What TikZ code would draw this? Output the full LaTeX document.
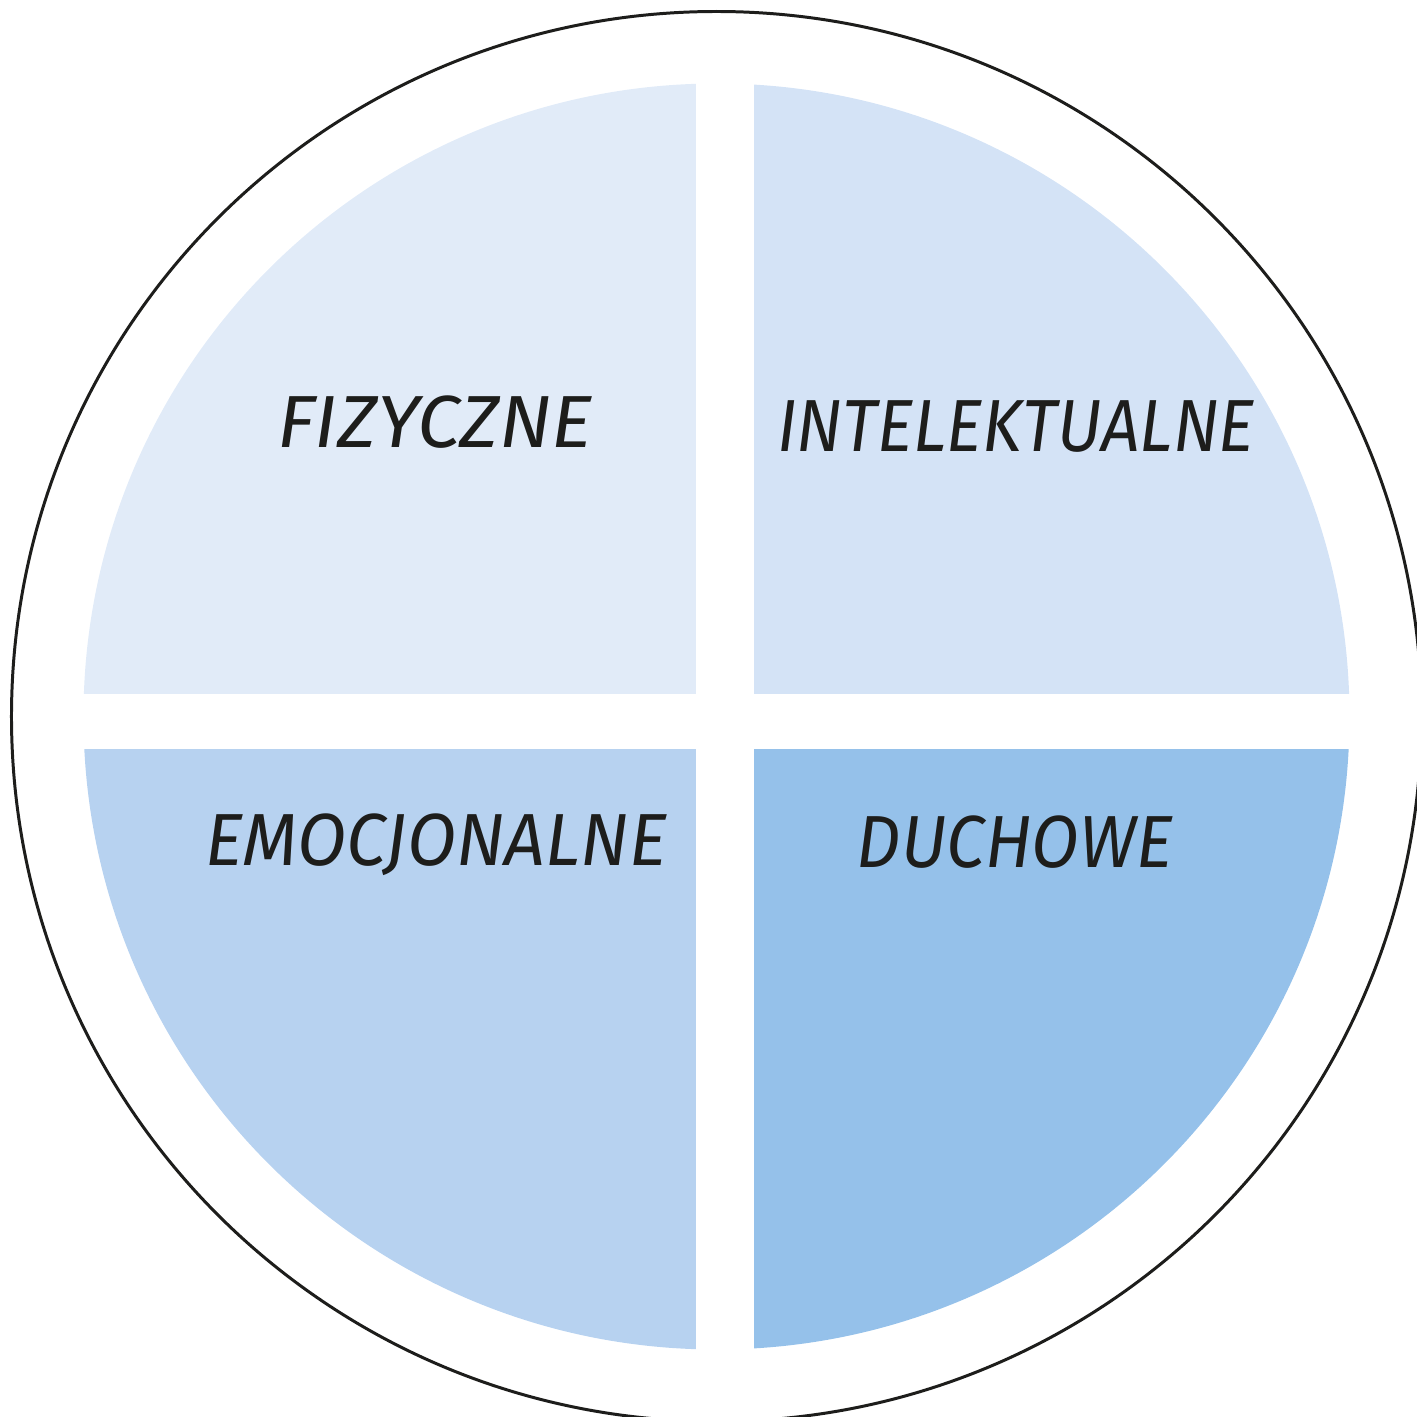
\documentclass[tikz,border=0pt]{standalone}
\usepackage{fontspec}
\setmainfont{Fira Sans}
\definecolor{ink}{HTML}{1D1D1B}
\definecolor{blueA}{HTML}{E1EBF8}
\definecolor{blueB}{HTML}{D4E3F6}
\definecolor{blueC}{HTML}{B7D2F0}
\definecolor{blueD}{HTML}{95C1EA}

\begin{document}
\begin{tikzpicture}[
    label/.style={inner sep=0pt, anchor=base, text=ink, transform shape,
        font=\fontsize{21}{25}\selectfont\itshape}
]

\useasboundingbox (-7.165,-7.005) rectangle (7.005,7.165);

% ================= cercle extérieur =================

\draw[ink, line width=0.85pt] (0,0) circle (7.05);

% ================= quatre quarts =================

\begin{scope}
\clip (0,0) circle (6.33);
\fill[blueA] (-6.4,0.228)  rectangle (-0.208,6.4);
\fill[blueB] (0.375,0.228) rectangle (6.4,6.4);
\fill[blueC] (-6.4,-6.4)   rectangle (-0.208,-0.328);
\fill[blueD] (0.375,-6.4)  rectangle (6.4,-0.328);
\end{scope}

% ================= étiquettes =================

\node[label, xscale=1.05] (fiz) at (-2.815,2.685)  {FIZYCZNE};
\node[label, xscale=0.92] (int) at (2.995,2.645)   {INTELEKTUALNE};
\node[label, xscale=0.97] (emo) at (-2.805,-1.485) {EMOCJONALNE};
\node[label, xscale=0.94] (duc) at (2.985,-1.505)  {DUCHOWE};

\end{tikzpicture}
\end{document}
